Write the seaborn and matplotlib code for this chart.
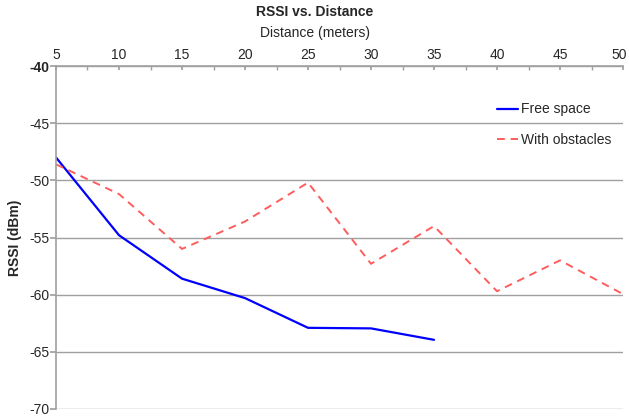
import matplotlib
matplotlib.use("Agg")
import matplotlib.pyplot as plt
import matplotlib.transforms as mtransforms
import seaborn as sns
import pandas as pd
from matplotlib.ticker import MultipleLocator

distance_free = [5, 10, 15, 20, 25, 30, 35]
rssi_free = [-48.0, -54.8, -58.6, -60.3, -62.9, -62.95, -63.95]
distance_obs = [5, 10, 15, 20, 25, 30, 35, 40, 45, 50]
rssi_obs = [-48.6, -51.2, -56.0, -53.6, -50.2, -57.3, -54.0, -59.7, -57.0, -59.95]
x_ticks = [5, 10, 15, 20, 25, 30, 35, 40, 45, 50]
y_ticks = [-40, -45, -50, -55, -60, -65, -70]

sns.set_theme(style="white")
plt.rcParams['font.family'] = ['Liberation Sans', 'DejaVu Sans']
plt.rcParams['axes.unicode_minus'] = False

df_free = pd.DataFrame({"Distance": distance_free, "RSSI": rssi_free})
df_obs = pd.DataFrame({"Distance": distance_obs, "RSSI": rssi_obs})

fig = plt.figure(figsize=(6.29, 4.18), dpi=100)
ax = fig.add_axes([56/629, 1-409/418, 567/629, 343/418])

sns.lineplot(data=df_free, x="Distance", y="RSSI", ax=ax, color="#0000FF",
             linewidth=1.6, label="Free space")
sns.lineplot(data=df_obs, x="Distance", y="RSSI", ax=ax, color="#FF5C5C",
             linewidth=1.4, linestyle=(0, (4, 3)), label="With obstacles")

ax.set_xlim(5, 50)
ax.set_ylim(-70, -40)
ax.set_xticks(x_ticks)
ax.set_yticks(y_ticks)
ax.xaxis.set_minor_locator(MultipleLocator(2.5))
ax.xaxis.tick_top()
ax.xaxis.set_label_position("top")
ax.tick_params(axis="x", which="both", direction="in", length=3, color="#a0a0a0",
               labelsize=10, pad=3, top=True, bottom=False)
ax.tick_params(axis="y", which="major", direction="out", length=4, color="#a0a0a0",
               labelsize=10, pad=1, left=True)
ax.yaxis.grid(True, color="#a0a0a0", linewidth=1.0)
ax.xaxis.grid(False)
for lbl in ax.get_yticklabels():
    if lbl.get_text() in ("-40", "−40"):
        lbl.set_fontweight("bold")

# keep the last top tick label inside the figure
last = ax.get_xticklabels()[-1]
last.set_horizontalalignment("right")
last.set_transform(last.get_transform() + mtransforms.ScaledTranslation(4/100, 0, fig.dpi_scale_trans))

for s in ["right", "bottom"]:
    ax.spines[s].set_visible(False)
for s in ["left", "top"]:
    ax.spines[s].set_color("#a0a0a0")
    ax.spines[s].set_linewidth(1.2)

ax.set_xlabel("")
ax.set_ylabel("RSSI (dBm)", fontsize=10, fontweight="bold", labelpad=5)
fig.text(0.5, 1-12/418, "RSSI vs. Distance", ha="center", va="center",
         fontsize=10, fontweight="bold")
fig.text(0.5, 1-33/418, "Distance (meters)", ha="center", va="center",
         fontsize=10)

leg = ax.legend(loc="upper left", bbox_to_anchor=(0.768, 0.91), frameon=False,
                fontsize=10, handlelength=1.5, handletextpad=0.2, labelspacing=1.2,
                borderaxespad=0)

fig.savefig("out.png", dpi=100)
